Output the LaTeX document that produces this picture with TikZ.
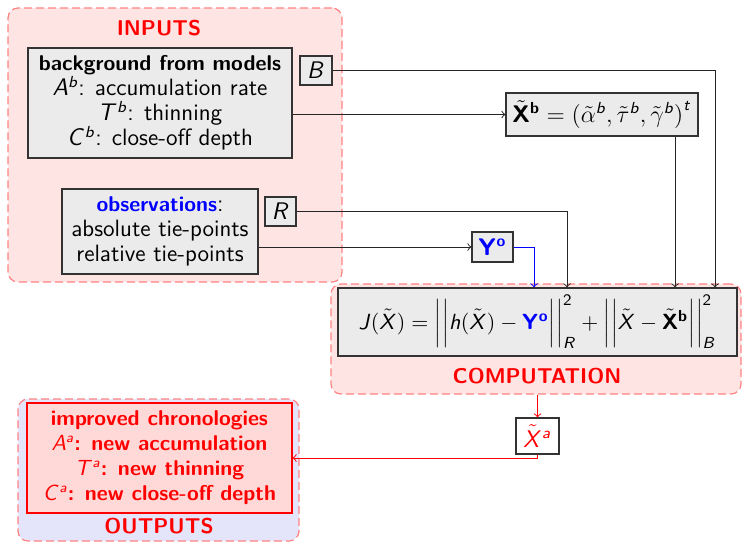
\documentclass[tikz,border=0pt]{standalone}
\usetikzlibrary{calc}
\DeclareSymbolFont{sfit}{OT1}{cmss}{m}{sl}
\DeclareSymbolFont{sfup}{OT1}{cmss}{m}{n}
\DeclareMathAlphabet{\mathbfs}{OT1}{cmss}{bx}{n}
\DeclareMathSymbol{A}{\mathalpha}{sfit}{`A}
\DeclareMathSymbol{B}{\mathalpha}{sfit}{`B}
\DeclareMathSymbol{C}{\mathalpha}{sfit}{`C}
\DeclareMathSymbol{J}{\mathalpha}{sfit}{`J}
\DeclareMathSymbol{R}{\mathalpha}{sfit}{`R}
\DeclareMathSymbol{T}{\mathalpha}{sfit}{`T}
\DeclareMathSymbol{X}{\mathalpha}{sfit}{`X}
\DeclareMathSymbol{a}{\mathalpha}{sfit}{`a}
\DeclareMathSymbol{b}{\mathalpha}{sfit}{`b}
\DeclareMathSymbol{h}{\mathalpha}{sfit}{`h}
\DeclareMathSymbol{t}{\mathalpha}{sfit}{`t}
\DeclareMathSymbol{2}{\mathalpha}{sfup}{`2}
\definecolor{inpink}{RGB}{255,228,228}
\definecolor{outpink}{RGB}{255,216,216}
\definecolor{lav}{RGB}{228,228,250}
\definecolor{boxgray}{RGB}{235,235,235}
\definecolor{dashred}{RGB}{255,130,130}
\newcommand{\sbf}{\fontseries{bx}\fontsize{10.7}{12.5}\selectfont}
\newcommand{\normL}{\mathopen{\bigg|\mkern1mu\bigg|}}
\newcommand{\normR}{\mathclose{\bigg|\mkern1mu\bigg|}}
\begin{document}
\begin{tikzpicture}[x=0.5pt,y=-0.5pt,
  font=\sffamily\fontsize{11.8}{12.5}\selectfont,
  region/.style={draw=dashred, dash pattern=on 4pt off 2pt, rounded corners=5pt, line width=0.6pt, inner sep=0pt},
  box/.style={draw=black!80, fill=boxgray, line width=0.6pt, align=center, inner sep=0pt},
  title/.style={text=red, font=\sffamily\sbf},
  conn/.style={->, line width=0.5pt, draw=black!85}]
\useasboundingbox (0,0) rectangle (742,543);
% regions
\node[region, fill=inpink, minimum width=167pt, minimum height=137pt] (inputs) at (175,145) {};
\node[region, fill=inpink, minimum width=205pt, minimum height=55pt] (comp) at (536,339) {};
\node[region, fill=lav, minimum width=140.5pt, minimum height=71pt] (outputs) at (158.5,470) {};
\node[title] (tin) at (159,28) {INPUTS};
\node[title] (tcomp) at (537,376) {COMPUTATION};
\node[title] (tout) at (159,526) {OUTPUTS};
% boxes
\node[box, minimum width=132pt, minimum height=55pt] (bg) at (160,103)
  {{\sbf background from models}\\ $A^b$: accumulation rate\\ $T^b$: thinning\\ $C^b$: close-off depth};
\node[box, minimum width=16pt, minimum height=14.5pt] (B) at (316,70.5) {$B$};
\node[box, minimum width=98pt, minimum height=42.5pt] (obs) at (160,231.5)
  {\textcolor{blue}{\sbf observations}:\\ absolute tie-points\\ relative tie-points};
\node[box, minimum width=15.5pt, minimum height=14.5pt] (R) at (280.5,211.5) {$R$};
\node[box, minimum width=96pt, minimum height=21.5pt] (Xb) at (602,114.5)
  {$\tilde{\mathbfs{X}}^{\mathbfs{b}}=\big(\tilde\alpha^b,\tilde\tau^b,\tilde\gamma^b\big)^t$};
\node[box, minimum width=20.5pt, minimum height=15pt] (Yo) at (492.5,247)
  {$\color{blue}\mathbfs{Y}^{\mathbfs{o}}$};
\node[box, minimum width=199.5pt, minimum height=34pt, font=\sffamily\fontsize{11.3}{12.5}\selectfont] (J) at (537.5,322)
  {$J(\tilde X)=\normL h(\tilde X)-\textcolor{blue}{\mathbfs{Y}^{\mathbfs{o}}}\normR^2_R+\normL\tilde X-\tilde{\mathbfs{X}}^{\mathbfs{b}}\normR^2_B$};
\node[box, fill=white, minimum width=21.5pt, minimum height=18pt] (Xa) at (537.5,436)
  {$\color{red}\tilde X^a$};
\node[box, fill=outpink, draw=red, text=red, font=\sffamily\sbf,
  minimum width=132.5pt, minimum height=55pt] (out) at (159.5,458)
  {improved chronologies\\ $A^a$: new accumulation\\ $T^a$: new thinning\\ $C^a$: new close-off depth};
% helper x positions
\coordinate (xB) at (715,0);
\coordinate (xXb) at (675,0);
\coordinate (xR) at (567,0);
\coordinate (xY) at (534,0);
% connectors
\draw[conn] (B.east) -| (xB |- J.north);
\draw[conn] (Xb.west -| bg.east) -- (Xb.west);
\draw[conn] (Xb.south -| xXb) -- (xXb |- J.north);
\draw[conn] (R.east) -| (xR |- J.north);
\draw[conn] (Yo.west -| obs.east) -- (Yo.west);
\draw[conn, draw=blue] (Yo.east) -| (xY |- J.north);
\draw[conn, draw=red] (comp.south -| Xa.north) -- (Xa.north);
\draw[conn, draw=red] (Xa.south) |- (out.east);
\end{tikzpicture}
\end{document}
